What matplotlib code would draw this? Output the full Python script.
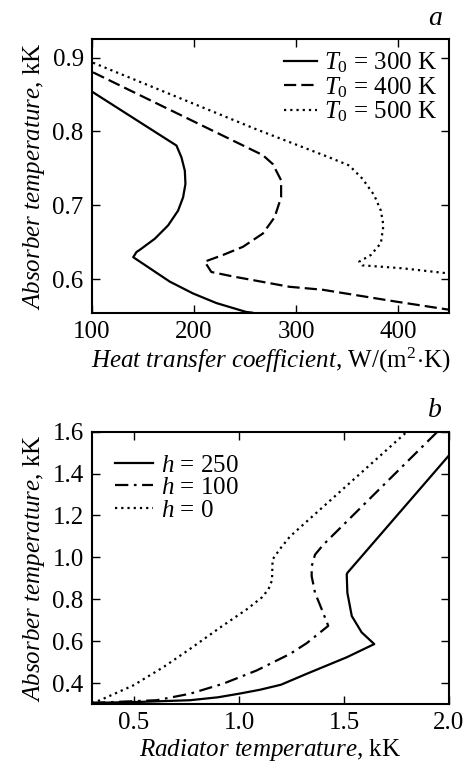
import matplotlib.pyplot as plt

plt.rcParams['font.family'] = ['Liberation Serif', 'DejaVu Serif']
plt.rcParams['mathtext.fontset'] = 'custom'
plt.rcParams['mathtext.rm'] = 'Liberation Serif'
plt.rcParams['mathtext.it'] = 'Liberation Serif:italic'
plt.rcParams['font.size'] = 18

# Panel a: absorber temperature (kK) vs heat transfer coefficient
h300 = [101, 182.8, 187.7, 191, 191.6, 189.3, 184.4, 174.6, 161.6, 146.9, 143.6, 140.4,
        156.7, 176.2, 199, 221.9, 251, 257]
t300 = [0.853, 0.781, 0.765, 0.747, 0.729, 0.711, 0.693, 0.673, 0.655, 0.640, 0.637, 0.630,
        0.615, 0.597, 0.581, 0.568, 0.556, 0.555]
h400 = [101, 267.5, 277.2, 285.4, 285.4, 279, 267.5, 247.9, 228.4, 210.5, 217, 238,
        293.5, 326, 397.8, 450]
t400 = [0.880, 0.768, 0.756, 0.734, 0.711, 0.684, 0.662, 0.644, 0.633, 0.624, 0.610, 0.604,
        0.590, 0.586, 0.570, 0.559]
h500 = [101, 261, 332.6, 352.2, 365.2, 376.6, 383.2, 385.7, 383.2, 373.4, 362, 365,
        404.3, 450]
t500 = [0.893, 0.803, 0.765, 0.754, 0.736, 0.714, 0.693, 0.673, 0.649, 0.633, 0.624, 0.619,
        0.615, 0.608]

# Panel b: absorber temperature vs radiator temperature (kK)
r250 = [0.30, 0.529, 0.767, 0.90, 1.005, 1.10, 1.20, 1.322, 1.513, 1.644, 1.584, 1.537,
        1.516, 1.513, 1.516, 2.00]
a250 = [0.305, 0.310, 0.318, 0.332, 0.350, 0.368, 0.392, 0.444, 0.523, 0.586, 0.642, 0.720,
        0.831, 0.918, 0.926, 1.487]
r100 = [0.30, 0.608, 0.767, 0.925, 1.084, 1.243, 1.322, 1.425, 1.394, 1.362, 1.346, 1.346,
        1.362, 1.401, 1.945]
a100 = [0.305, 0.318, 0.349, 0.397, 0.460, 0.539, 0.590, 0.673, 0.752, 0.831, 0.910, 0.957,
        1.013, 1.060, 1.60]
r0 = [0.30, 0.338, 0.497, 0.640, 0.767, 0.910, 1.037, 1.108, 1.14, 1.157, 1.16, 1.195,
      1.243, 1.80]
a0 = [0.305, 0.318, 0.389, 0.476, 0.563, 0.665, 0.752, 0.808, 0.847, 0.890, 0.990, 1.040,
      1.100, 1.60]

fig = plt.figure(figsize=(4.68, 7.72), dpi=100)
ax1 = fig.add_axes([0.1966, 0.595, 0.7628, 0.3544])
ax2 = fig.add_axes([0.1966, 0.0881, 0.7628, 0.3527])

lw = 1.6
ax1.plot(h300, t300, 'k-', lw=lw, label=r'$T_0$ = 300 K')
ax1.plot(h400, t400, 'k', ls=(0, (5.5, 2.3)), lw=lw, label=r'$T_0$ = 400 K')
ax1.plot(h500, t500, 'k', ls=(0, (1, 1.8)), lw=lw, label=r'$T_0$ = 500 K')
ax1.set_xlim(100, 450)
ax1.set_ylim(0.555, 0.925)
ax1.set_xticks([100, 200, 300, 400])
ax1.set_yticks([0.6, 0.7, 0.8, 0.9])
ax1.set_xlabel(r'$\it{Heat\ transfer\ coefficient}$, W/(m$^2\!\cdot\!$K)', labelpad=2)
ax1.set_ylabel(r'$\it{Absorber\ temperature}$, kK', labelpad=4)
ax1.legend(loc='upper right', frameon=False, handlelength=1.3, handletextpad=0.3,
           labelspacing=0.0, borderaxespad=0.25, borderpad=0.2)
ax1.text(0.98, 1.05, 'a', transform=ax1.transAxes, style='italic', fontsize=20, ha='right')

ax2.plot(r250, a250, 'k-', lw=lw, label=r'$h$ = 250')
ax2.plot(r100, a100, 'k', ls=(0, (6, 2.5, 1.2, 2.5)), lw=lw, label=r'$h$ = 100')
ax2.plot(r0, a0, 'k', ls=(0, (1, 1.8)), lw=lw, label=r'$h$ = 0')
ax2.set_xlim(0.3, 2.0)
ax2.set_ylim(0.3, 1.6)
ax2.set_xticks([0.5, 1.0, 1.5, 2.0])
ax2.set_yticks([0.4, 0.6, 0.8, 1.0, 1.2, 1.4, 1.6])
ax2.xaxis.set_major_formatter(plt.FormatStrFormatter('%.1f'))
ax2.yaxis.set_major_formatter(plt.FormatStrFormatter('%.1f'))
ax2.set_xlabel(r'$\it{Radiator\ temperature}$, kK', labelpad=2)
ax2.set_ylabel(r'$\it{Absorber\ temperature}$, kK', labelpad=4)
ax2.legend(loc='upper left', frameon=False, handlelength=1.55, handletextpad=0.3,
           labelspacing=0.0, borderaxespad=0.7, borderpad=0.2)
ax2.text(0.98, 1.054, 'b', transform=ax2.transAxes, style='italic', fontsize=20, ha='right')

for ax in (ax1, ax2):
    ax.tick_params(direction='in', top=True, right=True, length=6, width=1, pad=6)
    for s in ax.spines.values():
        s.set_linewidth(1.5)

fig.savefig('out.png', dpi=100)
